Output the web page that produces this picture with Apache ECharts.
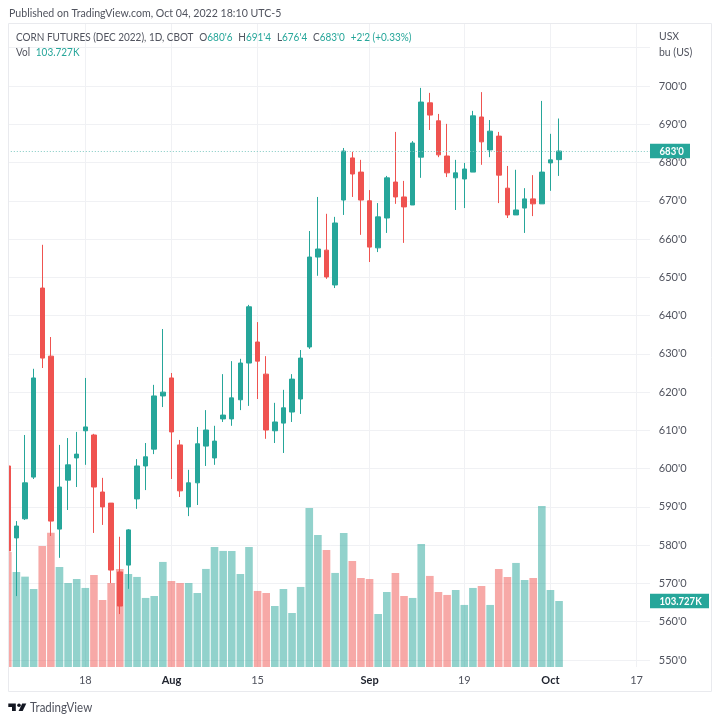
<!DOCTYPE html>
<html>
<head>
<meta charset="utf-8">
<script src="https://cdn.jsdelivr.net/npm/echarts@6/dist/echarts.min.js"></script>
<style>
  html, body { margin: 0; padding: 0; background: #fff; }
  #chart { width: 720px; height: 723px; }
</style>
</head>
<body>
<div id="chart"></div>
<script>
const tradeDates = [
  'Jul 5','Jul 6','Jul 7','Jul 8','Jul 11','Jul 12','Jul 13','Jul 14','Jul 15',
  'Jul 18','Jul 19','Jul 20','Jul 21','Jul 22','Jul 25','Jul 26','Jul 27','Jul 28','Jul 29',
  'Aug 1','Aug 2','Aug 3','Aug 4','Aug 5','Aug 8','Aug 9','Aug 10','Aug 11','Aug 12',
  'Aug 15','Aug 16','Aug 17','Aug 18','Aug 19','Aug 22','Aug 23','Aug 24','Aug 25','Aug 26',
  'Aug 29','Aug 30','Aug 31','Sep 1','Sep 2','Sep 6','Sep 7','Sep 8','Sep 9',
  'Sep 12','Sep 13','Sep 14','Sep 15','Sep 16','Sep 19','Sep 20','Sep 21','Sep 22','Sep 23',
  'Sep 26','Sep 27','Sep 28','Sep 29','Sep 30','Oct 3','Oct 4',
  'Oct 5','Oct 6','Oct 7','Oct 10','Oct 11','Oct 12','Oct 13','Oct 14','Oct 17','Oct 18','Oct 19'
]
const opens = [
  600.7,581.9,586.9,597.8,647.2,629.4,584.2,597,602.8,609.9,
  608.8,593.9,591,573,574.8,592.1,600.7,605.1,619,623.7,
  606.2,590,596.3,605.9,602.8,613,613,618,627.6,633.1,
  624.7,609.9,611.9,614.8,618.2,631.8,655.3,657.1,648,670.2,
  681.2,677.5,670,657.7,665.5,674.9,671,668.9,681.4,695.6,
  690.9,681.7,676,675.7,677.5,691.9,683.3,686.9,673.3,666.3,
  668.1,670.5,669.2,679.9,680.75
]
const closes = [
  578.5,585,596.3,623.7,628.9,586.3,595.2,601,603.8,610.9,
  595.2,590,573.5,564.1,584,600.7,603.1,619,620,609.6,
  594.2,596.3,606.5,610.1,607.2,614,618.5,627.6,642.3,628.1,
  610.1,612.2,615.9,623.4,628.9,655.3,657.4,650.1,664.2,683,
  677,670.2,657.9,665.8,676,671,668.4,685.1,695.8,692.4,
  682,677.3,677.3,678.3,692.2,685.4,688.2,676.7,666.3,667.6,
  670.5,669.2,677.5,680.7,683
]
const lows = [
  578.5,566.7,586.6,597.3,626.3,582.4,576.7,589.2,595.2,601,
  583.2,585.3,570.1,562,568.6,589.5,594.4,603.8,616.1,597.3,
  592.6,587.6,590.5,600.7,601,612.2,611.2,615.3,616.4,618.2,
  607.8,606.7,604.1,612.2,614.3,631.3,650.4,649.6,647.2,666.3,
  671,661.1,654,656.6,661.6,669.2,659,668.9,676,688.5,
  681.4,676.2,667.6,668.1,677.5,679.4,681.4,669.4,665.5,666.3,
  661.6,666,669.2,672.6,676.5
]
const highs = [
  601,586.3,608.8,626.1,658.5,634.4,606.2,608,609.6,623.7,
  609.1,597.6,591,582.2,584.2,602.5,606.7,621.9,636.5,625,
  607.5,599.7,610.9,615.3,611.2,624.7,628.1,628.7,642.8,638.3,
  629.4,617.2,620.6,624.7,631,662.1,671,666.6,665.8,683.8,
  682.8,680.7,672.8,669.4,676.5,688,675.2,685.6,699.5,698.2,
  692.7,690.1,680.7,679.9,693.5,698.4,691.1,688,679.1,678.1,
  673.3,676.7,696.1,687.5,691.5
]
const volumes = [
  180.8,149.3,142,122.6,190.2,211.1,157.2,132,138.3,124.2,
  144.6,105.3,132,154.1,146.2,141.5,108.5,111.6,165.1,135.2,
  132,132,116.3,154.1,188.6,182.4,182.4,146.2,188.6,119.5,
  116.3,95.9,122.6,84.9,125.8,250,207.5,183.9,147.8,210.6,
  166.6,139.9,138.3,83.3,117.9,147.8,111.6,108.5,193.4,143.1,
  117.9,113.2,121,97.5,124.2,127.3,97.5,154.1,141.5,163.5,
  136.8,139.9,253.1,121,103.727
]
const tickLabels = { 'Jul 18': '18', 'Aug 1': 'Aug', 'Aug 15': '15', 'Sep 1': 'Sep', 'Sep 19': '19', 'Oct 3': 'Oct', 'Oct 17': '17' }
const priceGrid = [550, 560, 570, 580, 590, 600, 610, 620, 630, 640, 650, 660, 670, 680, 690, 700, 710]
const priceLabels = priceGrid.slice(0, -1)
const lastPrice = 683
const lastVolume = 103.727

const UP = '#26a69a'
const DOWN = '#ef5350'
const FONT = 'Lato, sans-serif'
const TEXT = '#50535e'

const chart = echarts.init(document.getElementById('chart'))

const candles = opens.map((o, i) => [o, closes[i], lows[i], highs[i]])
const volumeBars = volumes.map((v, i) => ({
  value: v,
  itemStyle: { color: closes[i] >= opens[i] ? 'rgba(38,166,154,0.5)' : 'rgba(239,83,80,0.5)' },
}))

const hasLabel = (i) => tickLabels[tradeDates[i]] !== undefined

chart.setOption({
  animation: false,
  backgroundColor: '#fff',
  textStyle: { fontFamily: FONT },
  grid: { left: 7.8, top: 23, width: 646, height: 644 },
  xAxis: {
    type: 'category',
    data: tradeDates,
    boundaryGap: false,
    axisLine: { show: false },
    axisTick: { show: false },
    axisLabel: {
      interval: (i) => hasLabel(i),
      margin: 8,
      fontSize: 11,
      color: TEXT,
      fontFamily: FONT,
      formatter: (d) => {
        const s = tickLabels[d]
        return /[A-Z]/.test(s) ? '{m|' + s + '}' : s
      },
      rich: { m: { fontSize: 11, fontWeight: 'bold', color: '#1e222d', fontFamily: FONT } },
    },
    splitLine: {
      show: true,
      interval: (i) => hasLabel(i),
      lineStyle: { color: '#f0f1f4', width: 1 },
    },
  },
  yAxis: [
    {
      type: 'value',
      position: 'right',
      min: 548.17,
      max: 716.46,
      axisLine: { show: false },
      axisTick: { show: false, customValues: priceGrid },
      axisLabel: {
        customValues: priceLabels,
        margin: 5,
        fontSize: 11,
        color: TEXT,
        fontFamily: FONT,
        formatter: (v) => v + "'0",
      },
      splitLine: { show: true, lineStyle: { color: '#f0f1f4', width: 1 } },
    },
    { type: 'value', min: 0, max: 1012, show: false },
  ],
  series: [
    {
      type: 'bar',
      yAxisIndex: 1,
      barWidth: 7.6,
      data: volumeBars,
    },
    {
      type: 'candlestick',
      yAxisIndex: 0,
      barWidth: 5,
      data: candles,
      itemStyle: { color: UP, color0: DOWN, borderColor: UP, borderColor0: DOWN, borderWidth: 1 },
      markLine: {
        silent: true,
        symbol: 'none',
        label: { show: false },
        lineStyle: { color: '#7fc9c2', type: [1, 2], width: 1 },
        data: [{ yAxis: lastPrice }],
      },
    },
  ],
})

// price tags sit on the scale, so take their height from the axes
const tag = (axisIndex, value, text, width) => {
  const y = chart.convertToPixel({ yAxisIndex: axisIndex }, value)
  return [
    { type: 'rect', z: 20, shape: { x: 650, y: y - 7.3, width: width, height: 14.6 }, style: { fill: UP } },
    {
      type: 'text', z: 21, x: 659.5, y: y, scaleX: 0.8,
      style: { text: text, fill: '#fff', font: 'bold 12px ' + FONT, verticalAlign: 'middle' },
    },
  ]
}

// Lato runs wider than the original face, so the free texts get squeezed a little
const plain = (x, y, text, size, scaleX) => ({
  type: 'text', z: 21, x: x, y: y, scaleX: scaleX,
  style: { text: text, fill: TEXT, font: size + 'px ' + FONT, verticalAlign: 'middle' },
})

const legendRich = {
  t: { fill: TEXT, font: '11.5px ' + FONT },
  v: { fill: UP, font: '11.5px ' + FONT },
}

chart.setOption({
  graphic: [
    // frame, and the strips that hide the overhang of the grid at both ends
    { type: 'rect', z: 15, shape: { x: 650, y: 23, width: 4.5, height: 645 }, style: { fill: '#fff' } },
    { type: 'rect', z: 15, shape: { x: 0, y: 23, width: 8.5, height: 645 }, style: { fill: '#fff' } },
    { type: 'rect', z: 16, shape: { x: 8.5, y: 23.5, width: 703, height: 668 }, style: { fill: 'none', stroke: '#e9eaee', lineWidth: 1 } },
    ...tag(0, lastPrice, "683'0", 40),
    ...tag(1, lastVolume, '103.727K', 59),
    plain(9, 13.5, 'Published on TradingView.com, Oct 04, 2022 18:10 UTC-5', 12, 0.883),
    {
      type: 'text', z: 21, x: 16, y: 37, scaleX: 0.868,
      style: {
        text: "{t|CORN FUTURES (DEC 2022), 1D, CBOT}  {t|O}{v|680'6}  {t|H}{v|691'4}  {t|L}{v|676'4}  {t|C}{v|683'0}  {v|+2'2 (+0.33%)}",
        verticalAlign: 'middle',
        rich: legendRich,
      },
    },
    {
      type: 'text', z: 21, x: 16, y: 52, scaleX: 0.868,
      style: {
        text: '{t|Vol}  {v|103.727K}',
        verticalAlign: 'middle',
        rich: legendRich,
      },
    },
    plain(659, 36, 'USX', 12, 0.87),
    plain(659, 52, 'bu (US)', 12, 0.87),
    // TradingView mark
    { type: 'polygon', z: 21, shape: { points: [[8.3, 703.5], [15.8, 703.5], [15.8, 711], [12, 711], [12, 707], [8.3, 707]] }, style: { fill: '#131722' } },
    { type: 'circle', z: 21, shape: { cx: 19, cy: 705.2, r: 1.8 }, style: { fill: '#131722' } },
    { type: 'polygon', z: 21, shape: { points: [[22.2, 703.5], [26.3, 703.5], [22.7, 711], [18.6, 711]] }, style: { fill: '#131722' } },
    plain(30, 708, 'TradingView', 13, 0.886),
  ],
})
</script>
</body>
</html>
